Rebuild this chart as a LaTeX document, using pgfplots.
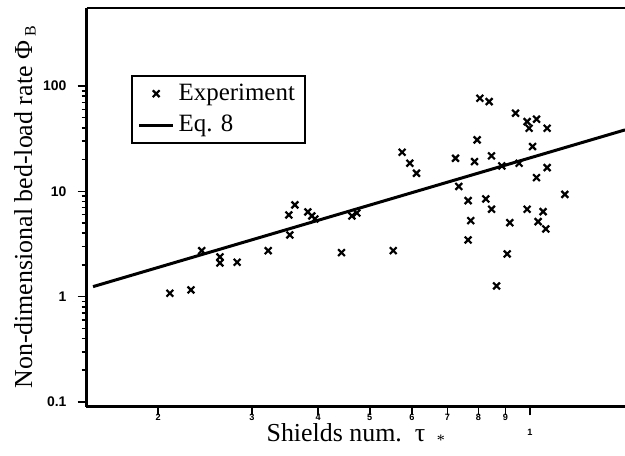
\documentclass[border=0pt]{standalone}
\usepackage{fontspec}
\setmainfont{Liberation Serif}
\setsansfont{Liberation Sans}
\usepackage{pgfplots}
\pgfplotsset{compat=1.18}
\begin{document}
\begin{tikzpicture}
\path[use as bounding box] (-43.25bp,-24.75bp) rectangle (269.25bp,203.25bp);
\begin{axis}[
  name=ax,
  at={(0,0)}, anchor=south west,
  scale only axis,
  width=269.25bp, height=199.25bp,
  xmode=log, ymode=log,
  xmin=0.1466, xmax=1.51,
  ymin=0.0906, ymax=550,
  axis x line*=bottom, axis y line*=left,
  axis line style={line width=1.4bp},
  xtick={0.2,0.3,0.4,0.5,0.6,0.7,0.8,0.9},
  xticklabels={2,3,4,5,6,7,8,9},
  extra x ticks={1},
  extra x tick labels={1},
  extra x tick style={tick label style={yshift=-7.5bp}},
  minor xtick={},
  ytick={0.1,1,10,100},
  yticklabels={0.1,1,10,100},
  xtick pos=left, ytick pos=left,
  tick align=outside,
  major tick length=4.5bp,
  minor tick length=2.5bp,
  tick style={line width=0.8bp, black},
  /pgf/number format/assume math mode=true,
  x tick label style={font=\sffamily\bfseries\fontsize{4.6}{4.6}\selectfont, inner sep=0pt, yshift=1bp},
  y tick label style={font=\sffamily\bfseries\fontsize{7}{7}\selectfont, xshift=-2bp},
  xlabel={Shields num.\ \ τ\hspace{0.45em}\raisebox{-0.35ex}{\fontsize{8}{8}\selectfont *}},
  ylabel={Non-dimensional bed-load rate Φ\,\raisebox{-0.3ex}{\fontsize{8}{8}\selectfont B}},
  xlabel style={font=\fontsize{13}{15}\selectfont, inner sep=0pt, at={(axis description cs:0.5,-0.0883)}, anchor=base},
  ylabel style={font=\fontsize{13}{15}\selectfont, at={(axis description cs:-0.1012,0.5)}, anchor=base},
  legend style={at={(axis description cs:0.0821,0.8319)}, anchor=north west,
    draw=black, line width=1bp, font=\fontsize{12.5}{14}\selectfont,
    inner xsep=3bp, inner ysep=2bp, row sep=2bp},
  legend cell align=left,
]
\addplot[only marks, mark=x, mark size=2.4bp, line width=1.1bp, black] coordinates {
(0.2104,1.077) (0.2305,1.158) (0.2414,2.734) (0.2613,2.382) (0.2613,2.089)
(0.2815,2.121) (0.3220,2.734) (0.3537,3.855) (0.3522,5.97) (0.3615,7.43)
(0.3824,6.374) (0.3891,5.84) (0.3942,5.47) (0.4424,2.617) (0.4627,5.84)
(0.4728,6.23) (0.5534,2.734) (0.5752,23.51) (0.5947,18.49) (0.6122,14.85)
(0.8054,76.6) (0.8384,71.1) (0.9400,55.2) (0.9884,45.9) (1.0294,48.4)
(0.997,39.7) (1.0778,39.7) (0.7959,30.8) (1.0118,26.6) (0.7249,20.6)
(0.7871,19.15) (0.8472,21.7) (0.8858,17.43) (0.9547,18.49) (1.0778,16.8)
(1.0294,13.49) (0.7352,11.13) (0.7655,8.16) (0.8265,8.47) (0.8472,6.76)
(0.7745,5.27) (0.7655,3.455) (0.9170,5.04) (0.9884,6.76) (1.059,6.415)
(1.0366,5.155) (1.0717,4.395) (1.1637,9.35) (0.9065,2.544) (0.8659,1.264)
};
\addlegendentry{Experiment}
\addplot[black, line width=1.5bp, no marks] coordinates {(0.1508,1.245) (1.51,38.3)};
\addlegendentry{Eq. 8}
\end{axis}
\draw[line width=1.4bp] (ax.north west) -- (ax.north east);
\end{tikzpicture}
\end{document}
